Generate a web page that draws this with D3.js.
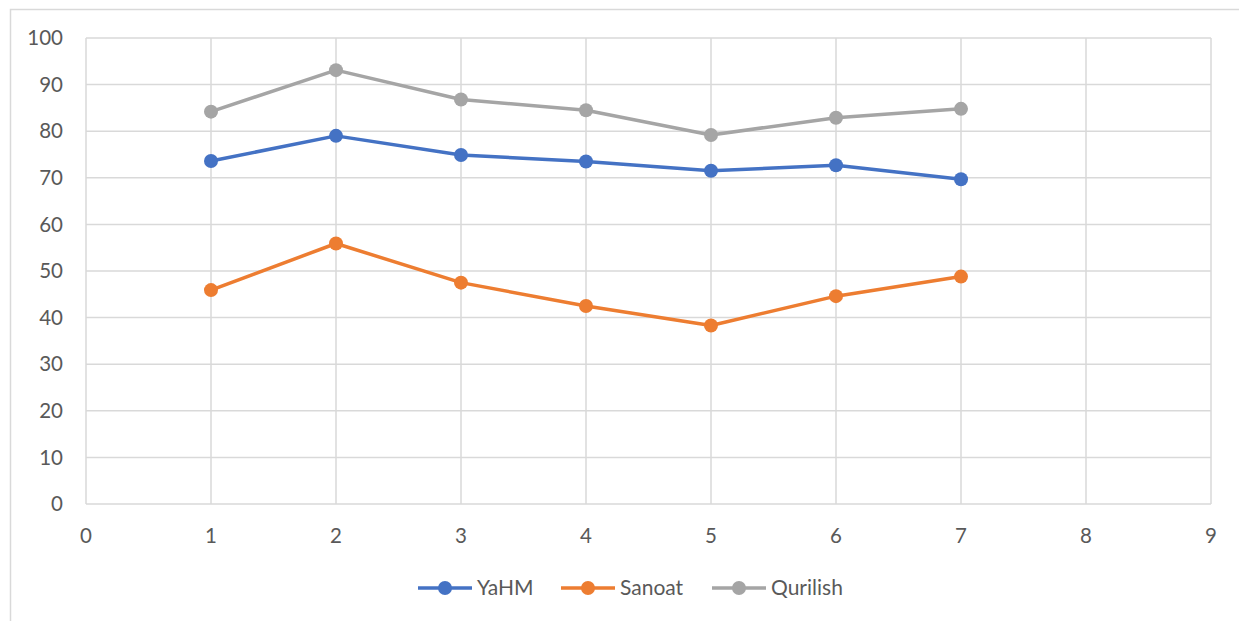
<!DOCTYPE html>
<html><head><meta charset="utf-8">
<script src="https://cdn.jsdelivr.net/npm/d3@7"></script>
<style>body{margin:0;background:#fff}svg{display:block}text{font-family:Lato,"Open Sans",sans-serif;fill:#595959}</style>
</head><body>
<svg id="c" width="1239" height="621"></svg>
<script>
const xValues = [1,2,3,4,5,6,7];
const yahm = [73.6,79.0,74.9,73.5,71.5,72.7,69.7];
const sanoat = [45.9,55.9,47.5,42.5,38.3,44.6,48.8];
const qurilish = [84.2,93.1,86.8,84.5,79.2,82.9,84.8];
const seriesNames = ["YaHM","Sanoat","Qurilish"];
const seriesColors = ["#4472C4","#ED7D31","#A5A5A5"];
const xTicks = [0,1,2,3,4,5,6,7,8,9];
const yTicks = [0,10,20,30,40,50,60,70,80,90,100];

const svg = d3.select("#c");
svg.append("rect").attr("x",10.5).attr("y",9.5).attr("width",1240).attr("height",620)
  .attr("fill","#fff").attr("stroke","#d9d9d9").attr("stroke-width",1.5);

const x = d3.scaleLinear().domain([0,9]).range([86,1211]);
const y = d3.scaleLinear().domain([0,100]).range([504,38]);

const g = svg.append("g");
g.selectAll(".hg").data(yTicks).join("line")
  .attr("x1",x(0)).attr("x2",x(9)).attr("y1",d=>y(d)).attr("y2",d=>y(d))
  .attr("stroke","#d9d9d9").attr("stroke-width",1.5);
g.selectAll(".vg").data(xTicks).join("line")
  .attr("y1",y(0)).attr("y2",y(100)).attr("x1",d=>x(d)).attr("x2",d=>x(d))
  .attr("stroke","#d9d9d9").attr("stroke-width",1.5);

g.selectAll(".yl").data(yTicks).join("text")
  .attr("x",63).attr("y",d=>y(d)).attr("dy","0.35em").attr("text-anchor","end")
  .attr("font-size",20.5).text(d=>d);
g.selectAll(".xl").data(xTicks).join("text")
  .attr("x",d=>x(d)).attr("y",536).attr("dy","0.35em").attr("text-anchor","middle")
  .attr("font-size",20.5).text(d=>d);

const data = [yahm,sanoat,qurilish];
const line = d3.line().x((d,i)=>x(xValues[i])).y(d=>y(d));
data.forEach((s,k)=>{
  g.append("path").datum(s).attr("d",line).attr("fill","none")
    .attr("stroke",seriesColors[k]).attr("stroke-width",3.5).attr("stroke-linejoin","round");
  g.selectAll(".m"+k).data(s).join("circle")
    .attr("cx",(d,i)=>x(xValues[i])).attr("cy",d=>y(d)).attr("r",7)
    .attr("fill",seriesColors[k]);
});

const legX = [418,561,712];
seriesNames.forEach((n,k)=>{
  const lg = svg.append("g").attr("transform",`translate(${legX[k]},588)`);
  lg.append("line").attr("x1",0).attr("x2",54).attr("stroke",seriesColors[k]).attr("stroke-width",3.5);
  lg.append("circle").attr("cx",27).attr("r",7).attr("fill",seriesColors[k]);
  lg.append("text").attr("x",59).attr("dy","0.35em").attr("font-size",21).text(n);
});
</script>
</body></html>
